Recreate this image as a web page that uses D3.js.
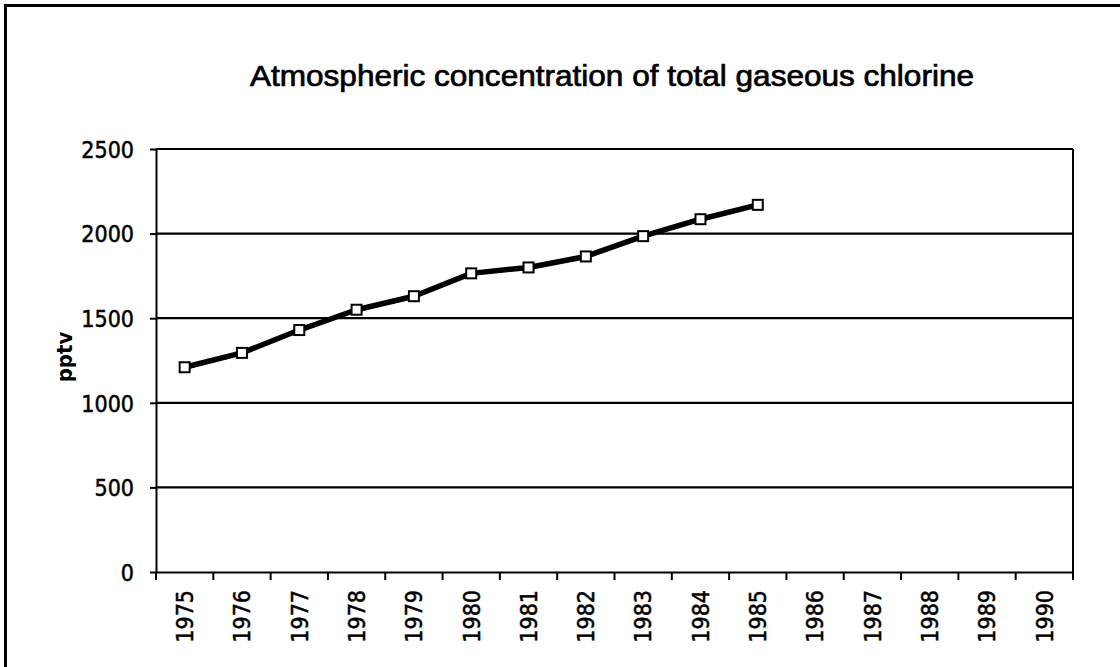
<!DOCTYPE html>
<html>
<head>
<meta charset="utf-8">
<script src="https://cdn.jsdelivr.net/npm/d3@7"></script>
<style>
  body { margin: 0; background: #fff; }
  svg { display: block; }
  .axis text { font-family: "DejaVu Sans Condensed", "Liberation Sans Narrow", sans-serif; font-size: 23px; fill: #000; stroke: #000; stroke-width: 0.5px; }
  .axis path, .axis line { stroke: #000; stroke-width: 2px; }
  .grid line { stroke: #000; stroke-width: 2.2px; }
  .title { font-family: "Liberation Sans", Arial, sans-serif; font-size: 29px; stroke: #000; stroke-width: 0.7px; }
  .ylabel { font-family: "DejaVu Sans Condensed", sans-serif; font-size: 22px; font-weight: bold; }
</style>
</head>
<body>
<svg class="chart" width="1120" height="667"></svg>
<script>
var years = ["1975","1976","1977","1978","1979","1980","1981","1982","1983","1984","1985","1986","1987","1988","1989","1990"];
var dataYears = ["1975","1976","1977","1978","1979","1980","1981","1982","1983","1984","1985"];
var chlorine = [1210, 1295, 1430, 1550, 1630, 1765, 1800, 1865, 1985, 2085, 2170];
var yTicks = [0, 500, 1000, 1500, 2000, 2500];

function drawChlorineChart() {
    var margin = {top: 149, right: 47, bottom: 95, left: 156},
        width = 1120 - margin.left - margin.right,
        height = 667 - margin.top - margin.bottom;

    var svg = d3.select(".chart");

    // frame (left and top edges only show in the scan)
    svg.append("path")
        .attr("d", "M5.5,667V5.5H1120")
        .attr("fill", "none")
        .attr("stroke", "#000")
        .attr("stroke-width", 3);

    svg.append("text")
        .attr("class", "title")
        .attr("x", 612)
        .attr("y", 86)
        .attr("text-anchor", "middle")
        .attr("textLength", 724)
        .attr("lengthAdjust", "spacingAndGlyphs")
        .text("Atmospheric concentration of total gaseous chlorine");

    var graph = svg.append("g")
        .attr("transform", "translate(" + margin.left + "," + margin.top + ")");

    var x = d3.scaleBand()
        .domain(years)
        .range([0, width]);

    var y = d3.scaleLinear()
        .domain([0, 2500])
        .range([height, 0]);

    // gridlines
    graph.append("g")
        .attr("class", "grid")
        .selectAll("line")
        .data(yTicks.slice(1))
        .enter().append("line")
            .attr("x1", 0)
            .attr("x2", width)
            .attr("y1", function(d) { return y(d); })
            .attr("y2", function(d) { return y(d); });

    // right edge of plot
    graph.append("line")
        .attr("x1", width).attr("x2", width)
        .attr("y1", 0).attr("y2", height + 8)
        .attr("stroke", "#000")
        .attr("stroke-width", 2);

    var yAxis = graph.append("g")
        .attr("class", "axis axis--y")
        .call(d3.axisLeft(y).tickValues(yTicks).tickFormat(d3.format("d"))
            .tickSize(6).tickSizeOuter(0).tickPadding(16));
    yAxis.selectAll("text").attr("dy", "0.36em");

    // x ticks sit on the category boundaries
    var xAxis = graph.append("g")
        .attr("class", "axis axis--x")
        .attr("transform", "translate(0," + height + ")")
        .call(d3.axisBottom(x).tickSize(0).tickSizeOuter(0));

    xAxis.selectAll(".tick text")
        .attr("transform", "rotate(-90)")
        .attr("text-anchor", "end")
        .attr("x", -18)
        .attr("y", 0)
        .attr("dy", "0.36em");

    xAxis.selectAll(".bound")
        .data(years.concat(["end"]))
        .enter().append("line")
            .attr("class", "bound")
            .attr("x1", function(d, i) { return i * x.bandwidth(); })
            .attr("x2", function(d, i) { return i * x.bandwidth(); })
            .attr("y1", 0)
            .attr("y2", 8);

    var points = dataYears.map(function(d, i) { return {year: d, value: chlorine[i]}; });

    var line = d3.line()
        .x(function(d) { return x(d.year) + x.bandwidth() / 2; })
        .y(function(d) { return y(d.value); });

    graph.append("path")
        .datum(points)
        .attr("fill", "none")
        .attr("stroke", "#000")
        .attr("stroke-width", 5.5)
        .attr("stroke-linejoin", "round")
        .attr("d", line);

    graph.selectAll(".marker")
        .data(points)
        .enter().append("rect")
            .attr("class", "marker")
            .attr("x", function(d) { return x(d.year) + x.bandwidth() / 2 - 5; })
            .attr("y", function(d) { return y(d.value) - 5; })
            .attr("width", 10)
            .attr("height", 10)
            .attr("fill", "#fff")
            .attr("stroke", "#000")
            .attr("stroke-width", 2);

    svg.append("text")
        .attr("class", "ylabel")
        .attr("transform", "translate(72,357) rotate(-90)")
        .attr("text-anchor", "middle")
        .text("pptv");
}

drawChlorineChart();
</script>
</body>
</html>
